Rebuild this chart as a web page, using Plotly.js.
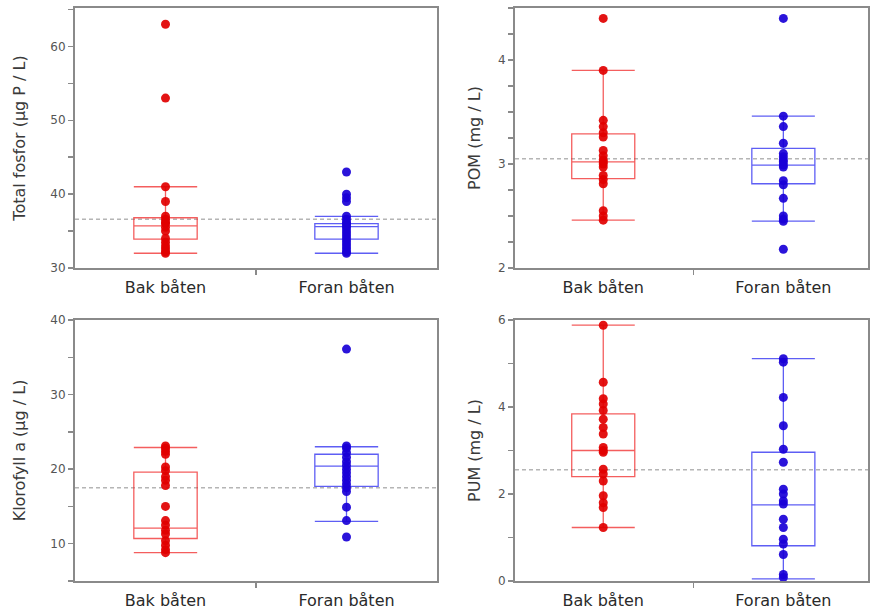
<!DOCTYPE html>
<html>
<head>
<meta charset="utf-8">
<script src="https://cdn.plot.ly/plotly-3.0.1.min.js"></script>
<style>html,body{margin:0;padding:0;background:#fff;}#chart{width:872px;height:613px;}</style>
</head>
<body>
<div id="chart"></div>
<script>
// ---- Data ----
const groups = ["Bak båten", "Foran båten"];
const groupPos = [1, 2];

const tpBak   = [63, 53, 41, 39, 37, 36.6, 36.2, 36, 35.5, 35, 34, 33.5, 33, 32.6, 32.2, 32];
const tpForan = [43, 40, 39.5, 39, 37, 36.6, 36.2, 36, 35.7, 35.4, 35, 34.6, 34.2, 33.8, 33.4, 33, 32.6, 32.2, 32];
const pomBak   = [4.4, 3.9, 3.42, 3.36, 3.3, 3.26, 3.13, 3.08, 3.04, 3.02, 3.0, 2.97, 2.89, 2.85, 2.81, 2.55, 2.5, 2.46];
const pomForan = [4.4, 3.46, 3.36, 3.2, 3.1, 3.07, 3.04, 3.02, 2.99, 2.97, 2.84, 2.8, 2.67, 2.5, 2.47, 2.45, 2.18];
const chlBak   = [23.1, 22.8, 22.4, 22.0, 20.3, 19.8, 19.0, 18.5, 17.8, 15.0, 13.1, 12.5, 11.8, 11.3, 10.4, 9.8, 9.2, 8.8];
const chlForan = [36.1, 23.1, 22.8, 22.2, 21.6, 21.0, 20.5, 20.0, 19.5, 19.0, 18.5, 18.0, 17.5, 17.0, 14.9, 13.1, 10.9];
const pumBak   = [5.88, 4.57, 4.19, 4.07, 3.92, 3.72, 3.53, 3.38, 3.07, 3.0, 2.96, 2.57, 2.46, 2.30, 1.96, 1.80, 1.69, 1.23];
const pumForan = [5.11, 5.03, 4.22, 3.57, 3.03, 2.73, 2.11, 2.0, 1.84, 1.77, 1.42, 1.23, 0.96, 0.85, 0.61, 0.15, 0.08];

// box statistics per panel: [Bak, Foran]
const tpQ1 = [33.9, 33.9],  tpMed = [35.7, 35.6],  tpQ3 = [36.8, 36.0],  tpLo = [32, 32],     tpHi = [41, 37];
const pomQ1 = [2.86, 2.81], pomMed = [3.02, 2.99], pomQ3 = [3.29, 3.15], pomLo = [2.46, 2.45], pomHi = [3.9, 3.46];
const chlQ1 = [10.7, 17.7], chlMed = [12.1, 20.4], chlQ3 = [19.6, 22.0], chlLo = [8.8, 13.0],  chlHi = [22.9, 23.0];
const pumQ1 = [2.40, 0.81], pumMed = [3.0, 1.75],  pumQ3 = [3.84, 2.96], pumLo = [1.23, 0.05], pumHi = [5.88, 5.11];

// overall mean (dashed reference line) per panel
const grandMean = [36.6, 3.05, 17.5, 2.56];

const yTitles = ["Total fosfor (µg P / L)", "POM (mg / L)", "Klorofyll a (µg / L)", "PUM (mg / L)"];

// ---- Build ----
const RED_BOX = 'rgba(240,40,40,0.75)', BLUE_BOX = 'rgba(40,40,240,0.75)';
const RED_PT = 'rgba(225,0,0,0.92)', BLUE_PT = 'rgba(25,0,215,0.92)';
const FONT = 'DejaVu Sans, Liberation Sans, Arial, sans-serif';

const panels = [
  {bak: tpBak,  foran: tpForan,  q1: tpQ1,  med: tpMed,  q3: tpQ3,  lo: tpLo,  hi: tpHi},
  {bak: pomBak, foran: pomForan, q1: pomQ1, med: pomMed, q3: pomQ3, lo: pomLo, hi: pomHi},
  {bak: chlBak, foran: chlForan, q1: chlQ1, med: chlMed, q3: chlQ3, lo: chlLo, hi: chlHi},
  {bak: pumBak, foran: pumForan, q1: pumQ1, med: pumMed, q3: pumQ3, lo: pumLo, hi: pumHi}
];

const traces = [];
const shapes = [];
panels.forEach((p, i) => {
  const ax = i === 0 ? '' : String(i + 1);
  const xa = 'x' + ax, ya = 'y' + ax;
  [0, 1].forEach(g => {
    const boxCol = g === 0 ? RED_BOX : BLUE_BOX;
    traces.push({
      type: 'box', x: [groupPos[g]], q1: [p.q1[g]], median: [p.med[g]], q3: [p.q3[g]],
      lowerfence: [p.lo[g]], upperfence: [p.hi[g]],
      width: 0.35, whiskerwidth: 1, boxpoints: false,
      line: {color: boxCol, width: 1.3}, fillcolor: 'rgba(0,0,0,0)',
      xaxis: xa, yaxis: ya, showlegend: false, hoverinfo: 'skip'
    });
  });
  [0, 1].forEach(g => {
    const vals = g === 0 ? p.bak : p.foran;
    traces.push({
      type: 'scatter', mode: 'markers',
      x: vals.map(() => groupPos[g]), y: vals,
      marker: {size: 9, color: g === 0 ? RED_PT : BLUE_PT},
      xaxis: xa, yaxis: ya, showlegend: false, hoverinfo: 'skip'
    });
  });
  shapes.push({
    type: 'line', xref: xa + ' domain', yref: ya, x0: 0, x1: 1,
    y0: grandMean[i], y1: grandMean[i],
    line: {color: 'rgba(150,150,150,0.7)', width: 1.5, dash: '4px,3px'}, layer: 'below'
  });
});

const W = 872, H = 613;
const xDomL = [75 / W, 437 / W], xDomR = [515 / W, 868 / W];
const yDomT = [(H - 268) / H, (H - 8) / H], yDomB = [(H - 581) / H, (H - 320) / H];

function xAxis(domain, anchor, range) {
  return {
    domain: domain, anchor: anchor, range: range,
    tickmode: 'array', tickvals: groupPos, ticktext: groups,
    ticks: 'outside', ticklen: 4, tickcolor: 'rgba(0,0,0,0)',
    tickfont: {family: FONT, size: 16, color: '#2a2a2a'},
    showline: true, linecolor: '#8a8a8a', linewidth: 2, mirror: true,
    showgrid: false, zeroline: false, automargin: false,
    minor: {tickmode: 'array', tickvals: [1.5], ticks: 'outside', ticklen: 5, tickcolor: '#8a8a8a', tickwidth: 1.5, showgrid: false}
  };
}
function yAxis(domain, anchor, range, dtick, minorD, title, standoff) {
  return {
    domain: domain, anchor: anchor, range: range,
    tickmode: 'linear', tick0: 0, dtick: dtick, ticks: 'outside', ticklen: 5, tickcolor: '#8a8a8a', tickwidth: 1.5,
    tickfont: {family: FONT, size: 12, color: '#555'},
    showline: true, linecolor: '#8a8a8a', linewidth: 2, mirror: true,
    showgrid: false, zeroline: false, automargin: false,
    minor: {dtick: minorD, ticks: 'outside', ticklen: 5, tickcolor: '#8a8a8a', tickwidth: 1.5, showgrid: false},
    title: {text: title, standoff: standoff, font: {family: FONT, size: 16, color: '#3a3a3a'}}
  };
}

const layout = {
  width: W, height: H,
  margin: {l: 0, r: 0, t: 0, b: 0},
  paper_bgcolor: '#fff', plot_bgcolor: '#fff',
  showlegend: false,
  xaxis:  xAxis(xDomL, 'y',  [0.5, 2.5]),
  yaxis:  yAxis(yDomT, 'x',  [30, 65.2], 10, 5, yTitles[0], 21),
  xaxis2: xAxis(xDomR, 'y2', [0.51, 2.47]),
  yaxis2: yAxis(yDomT, 'x2', [2, 4.5], 1, 0.25, yTitles[1], 13),
  xaxis3: xAxis(xDomL, 'y3', [0.5, 2.5]),
  yaxis3: yAxis(yDomB, 'x3', [5, 40], 10, 5, yTitles[2], 21),
  xaxis4: xAxis(xDomR, 'y4', [0.51, 2.47]),
  yaxis4: yAxis(yDomB, 'x4', [0, 6], 2, 1, yTitles[3], 13),
  shapes: shapes
};

Plotly.newPlot('chart', traces, layout, {displayModeBar: false, staticPlot: true});
</script>
</body>
</html>
